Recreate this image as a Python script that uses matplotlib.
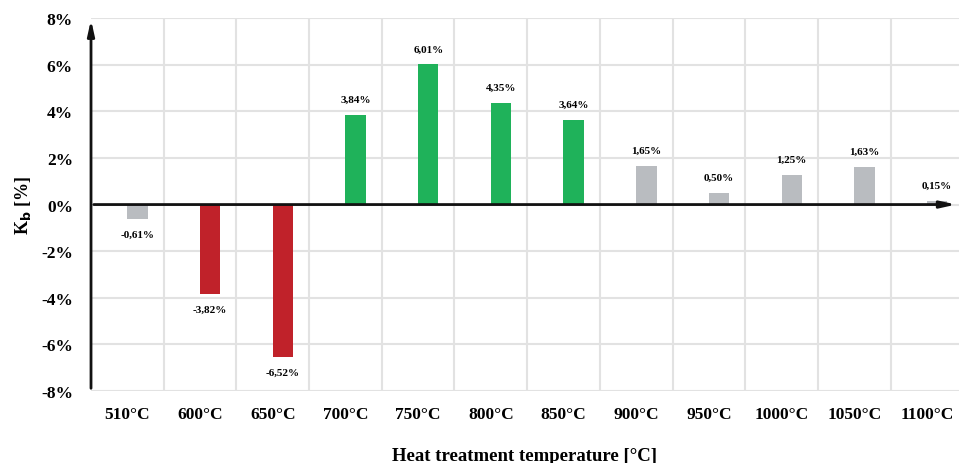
import matplotlib
matplotlib.use('Agg')
import matplotlib.pyplot as plt

# data
temps = ['510°C', '600°C', '650°C', '700°C', '750°C', '800°C',
         '850°C', '900°C', '950°C', '1000°C', '1050°C', '1100°C']
kb = [-0.61, -3.82, -6.52, 3.84, 6.01, 4.35, 3.64, 1.65, 0.50, 1.25, 1.63, 0.15]
groups = ['gray', 'red', 'red', 'green', 'green', 'green', 'green',
          'gray', 'gray', 'gray', 'gray', 'gray']

colors = {'gray': '#b9bcc0', 'red': '#c0222a', 'green': '#1fb25a'}

plt.rcParams['font.family'] = ['Liberation Serif', 'DejaVu Serif']
plt.rcParams['font.weight'] = 'bold'

fig = plt.figure(figsize=(9.59, 4.64), dpi=100)
ax = fig.add_axes([0.0949, 0.155, 0.905, 0.804])

x = list(range(len(temps)))
bar_w = 0.28
ax.bar([i + bar_w / 2 for i in x], kb, width=bar_w,
       color=[colors[g] for g in groups], zorder=3)

# value labels
for i, v in enumerate(kb):
    lbl = f'{v:.2f}%'.replace('.', ',')
    off = 8 if v >= 0 else -8
    ax.annotate(lbl, (i + bar_w / 2, v), xytext=(0, off), textcoords='offset points',
                ha='center', va='bottom' if v >= 0 else 'top',
                fontsize=8, fontweight='bold', zorder=4)

ax.set_xlim(-0.5, 11.44)
ax.set_ylim(-8, 8)
ax.set_xticks(x)
ax.set_xticklabels(temps, fontsize=12.5, fontweight='bold')
ax.set_yticks(range(-8, 9, 2))
ax.set_yticklabels([f'{t}%' for t in range(-8, 9, 2)], fontsize=12.5, fontweight='bold')
ax.tick_params(length=0)
ax.tick_params(axis='x', pad=11)
ax.tick_params(axis='y', pad=13)

# grid
for b in [i + 0.5 for i in x[:-1]]:
    ax.axvline(b, color='#e2e2e2', lw=1.5, zorder=1)
for t in range(-8, 9, 2):
    ax.axhline(t, color='#e2e2e2', lw=1.5, zorder=1)

for s in ax.spines.values():
    s.set_visible(False)

# arrow axes
ax.annotate('', xy=(-0.5, 8.05), xytext=(-0.5, -8),
            arrowprops=dict(arrowstyle='-|>,head_length=0.9,head_width=0.2',
                            color='#111111', lw=2),
            annotation_clip=False, zorder=5)
ax.annotate('', xy=(11.44, 0), xytext=(-0.5, 0),
            arrowprops=dict(arrowstyle='-|>,head_length=0.9,head_width=0.2',
                            color='#111111', lw=2),
            annotation_clip=False, zorder=5)

ax.set_xlabel('Heat treatment temperature [°C]', fontsize=13.5, fontweight='bold', labelpad=18)
ax.set_ylabel(r'K$_\mathbf{b}$ [%]', fontsize=13, fontweight='bold', labelpad=6)

fig.savefig('out.png', dpi=100, facecolor='white')
